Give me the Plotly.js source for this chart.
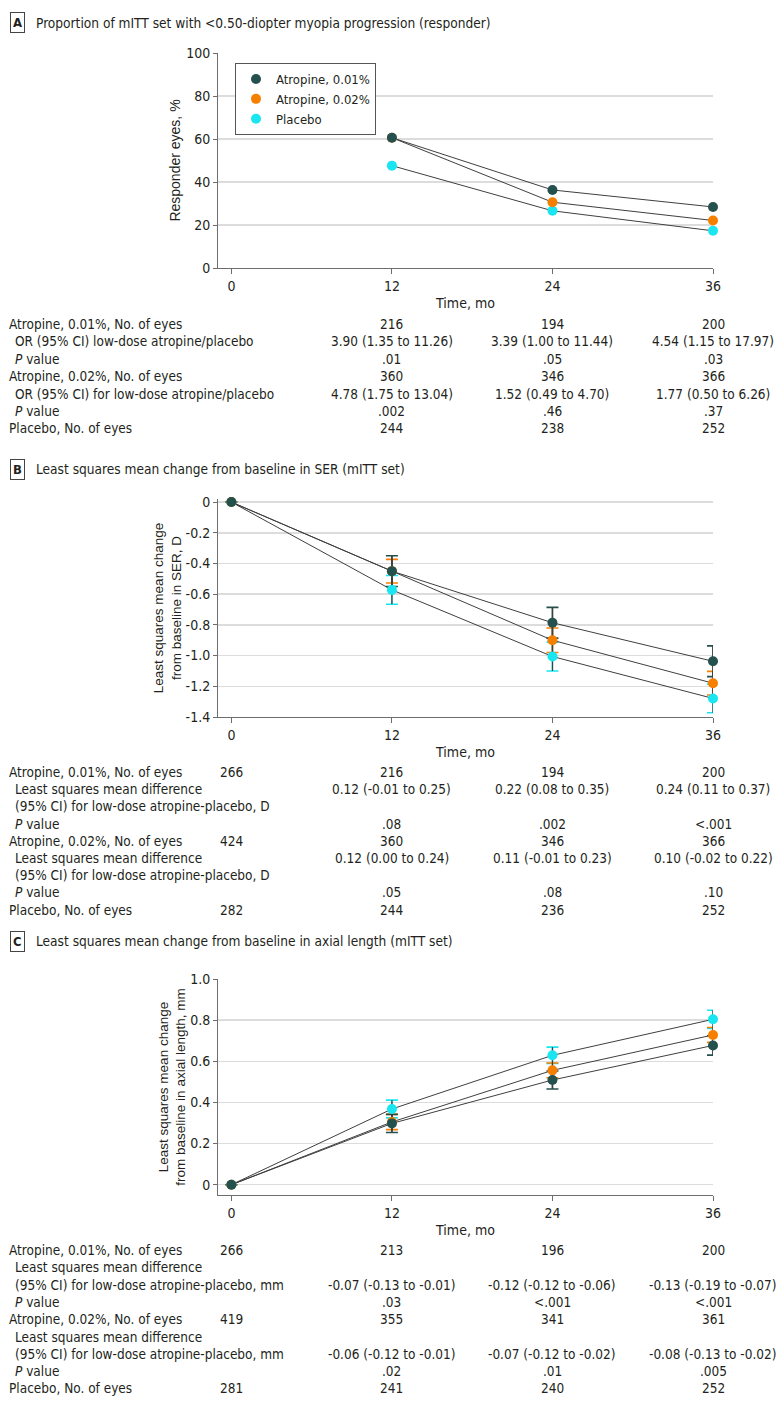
<!DOCTYPE html>
<html><head><meta charset="utf-8">
<script src="https://cdn.plot.ly/plotly-3.0.1.min.js"></script>
<style>html,body{margin:0;padding:0;background:#fff}</style>
</head><body><div id="chart" style="width:783px;height:1406px"></div>
<script>
// ---------------- DATA ----------------
const monthTicks = [0, 12, 24, 36];
const monthTickText = ["0", "12", "24", "36"];
const seriesNames = ["Atropine, 0.01%", "Atropine, 0.02%", "Placebo"];

// Panel A: responder eyes, %
const monthsA = [12, 24, 36];
const respA_001 = [60.6, 36.3, 28.4];
const respA_002 = [60.6, 30.6, 22.1];
const respA_pl  = [47.6, 26.6, 17.3];
const yTicksA = [0, 20, 40, 60, 80, 100];
const yTickTextA = ["0", "20", "40", "60", "80", "100"];

// Panel B: LS mean change in SER, D
const monthsB = [0, 12, 24, 36];
const serB_001 = [0, -0.45, -0.786, -1.037];
const serErrB_001 = [null, 0.10, 0.10, 0.10];
const serB_002 = [0, -0.45, -0.90, -1.18];
const serErrB_002 = [null, 0.077, 0.08, 0.077];
const serB_pl  = [0, -0.572, -1.006, -1.279];
const serErrB_pl = [null, 0.094, 0.094, 0.093];
const yTicksB = [-1.4, -1.2, -1.0, -0.8, -0.6, -0.4, -0.2, 0];
const yTickTextB = ["-1.4", "-1.2", "-1.0", "-0.8", "-0.6", "-0.4", "-0.2", "0"];

// Panel C: LS mean change in axial length, mm
const monthsC = [0, 12, 24, 36];
const axC_001 = [0, 0.298, 0.509, 0.677];
const axErrC_001 = [null, 0.044, 0.044, 0.047];
const axC_002 = [0, 0.305, 0.556, 0.728];
const axErrC_002 = [null, 0.037, 0.036, 0.036];
const axC_pl  = [0, 0.368, 0.629, 0.804];
const axErrC_pl = [null, 0.043, 0.040, 0.044];
const yTicksC = [0, 0.2, 0.4, 0.6, 0.8, 1.0];
const yTickTextC = ["0", "0.2", "0.4", "0.6", "0.8", "1.0"];

// Tables
const tabA_labels = ["Atropine, 0.01%, No. of eyes", "OR (95% CI) low-dose atropine/placebo", "<i>P</i> value",
  "Atropine, 0.02%, No. of eyes", "OR (95% CI) for low-dose atropine/placebo", "<i>P</i> value", "Placebo, No. of eyes"];
const tabA_n001 = ["216", "194", "200"];
const tabA_or001 = ["3.90 (1.35 to 11.26)", "3.39 (1.00 to 11.44)", "4.54 (1.15 to 17.97)"];
const tabA_p001 = [".01", ".05", ".03"];
const tabA_n002 = ["360", "346", "366"];
const tabA_or002 = ["4.78 (1.75 to 13.04)", "1.52 (0.49 to 4.70)", "1.77 (0.50 to 6.26)"];
const tabA_p002 = [".002", ".46", ".37"];
const tabA_npl = ["244", "238", "252"];

const tabB_labels = ["Atropine, 0.01%, No. of eyes", "Least squares mean difference", "(95% CI) for low-dose atropine-placebo, D", "<i>P</i> value",
  "Atropine, 0.02%, No. of eyes", "Least squares mean difference", "(95% CI) for low-dose atropine-placebo, D", "<i>P</i> value", "Placebo, No. of eyes"];
const tabB_n001 = ["266", "216", "194", "200"];
const tabB_d001 = ["0.12 (-0.01 to 0.25)", "0.22 (0.08 to 0.35)", "0.24 (0.11 to 0.37)"];
const tabB_p001 = [".08", ".002", "<.001"];
const tabB_n002 = ["424", "360", "346", "366"];
const tabB_d002 = ["0.12 (0.00 to 0.24)", "0.11 (-0.01 to 0.23)", "0.10 (-0.02 to 0.22)"];
const tabB_p002 = [".05", ".08", ".10"];
const tabB_npl = ["282", "244", "236", "252"];

const tabC_labels = ["Atropine, 0.01%, No. of eyes", "Least squares mean difference", "(95% CI) for low-dose atropine-placebo, mm", "<i>P</i> value",
  "Atropine, 0.02%, No. of eyes", "Least squares mean difference", "(95% CI) for low-dose atropine-placebo, mm", "<i>P</i> value", "Placebo, No. of eyes"];
const tabC_n001 = ["266", "213", "196", "200"];
const tabC_d001 = ["-0.07 (-0.13 to -0.01)", "-0.12 (-0.12 to -0.06)", "-0.13 (-0.19 to -0.07)"];
const tabC_p001 = [".03", "<.001", "<.001"];
const tabC_n002 = ["419", "355", "341", "361"];
const tabC_d002 = ["-0.06 (-0.12 to -0.01)", "-0.07 (-0.12 to -0.02)", "-0.08 (-0.13 to -0.02)"];
const tabC_p002 = [".02", ".01", ".005"];
const tabC_npl = ["281", "241", "240", "252"];

// ---------------- STYLE ----------------
const W = 783, H = 1406;
const X = p => p / W, Y = p => 1 - p / H;
const FN = '"Liberation Sans Narrow", "DejaVu Sans Condensed", "Roboto Condensed", Roboto, sans-serif';
const FW = '"Liberation Sans", Arial, sans-serif';
const TXT = '#231f20';
const COL = ['#24504d', '#f77f00', '#19e6f0'];
const LINE = '#3f3f3f';

const traces = [];
function panel(xa, ya, xs, ys3, errs3, showLeg) {
  const order = [2, 1, 0];
  if (errs3) {
    order.forEach(i => {
      traces.push({x: xs, y: ys3[i], xaxis: xa, yaxis: ya, type: 'scatter', mode: 'markers',
        marker: {size: 1, color: 'rgba(0,0,0,0)'}, showlegend: false, hoverinfo: 'skip', cliponaxis: false,
        error_y: {type: 'data', array: errs3[i], visible: true, color: COL[i], thickness: 1.6, width: 6}});
    });
    order.forEach(i => {
      traces.push({x: xs, y: ys3[i], xaxis: xa, yaxis: ya, type: 'scatter', mode: 'markers',
        marker: {size: 1, color: 'rgba(0,0,0,0)'}, showlegend: false, hoverinfo: 'skip', cliponaxis: false,
        error_y: {type: 'data', array: errs3[i], visible: true, color: LINE, thickness: 1.2, width: 0}});
    });
  }
  order.forEach(i => {
    traces.push({x: xs, y: ys3[i], xaxis: xa, yaxis: ya, type: 'scatter', mode: 'lines',
      line: {color: LINE, width: 1}, showlegend: false, hoverinfo: 'skip', cliponaxis: false});
  });
  order.forEach(i => {
    traces.push({x: xs, y: ys3[i], xaxis: xa, yaxis: ya, type: 'scatter', mode: 'markers', name: seriesNames[i],
      marker: {size: 10, color: COL[i]}, showlegend: showLeg, legendrank: i + 1, cliponaxis: false});
  });
}
panel('x', 'y', monthsA, [respA_001, respA_002, respA_pl], null, true);
panel('x2', 'y2', monthsB, [serB_001, serB_002, serB_pl], [serErrB_001, serErrB_002, serErrB_pl], false);
panel('x3', 'y3', monthsC, [axC_001, axC_002, axC_pl], [axErrC_001, axErrC_002, axErrC_pl], false);

function xax(anchor) {
  return {domain: [X(218), X(713)], range: [-1, 36], anchor: anchor, tickvals: monthTicks, ticktext: monthTickText,
    ticks: 'outside', ticklen: 5, tickcolor: '#6d6d6d', showline: true, linecolor: '#6d6d6d', linewidth: 1,
    showgrid: false, zeroline: false, tickfont: {family: FN, size: 14, color: TXT},
    title: {text: 'Time, mo', font: {family: FN, size: 14, color: TXT}, standoff: 5}, automargin: false};
}
function yax(anchor, dom, range, tv, tt, title, tsize) {
  return {domain: dom, range: range, anchor: anchor, tickvals: tv, ticktext: tt,
    ticks: 'outside', ticklen: 4, tickcolor: '#6d6d6d', showline: true, linecolor: '#6d6d6d', linewidth: 1,
    showgrid: true, gridcolor: '#dcdcdc', gridwidth: 1.5, zeroline: false,
    tickfont: {family: FN, size: 14, color: TXT},
    title: {text: title, font: {family: FW, size: tsize, color: TXT}}, automargin: false};
}

const annotations = [];
function label(letter, text, y) {
  annotations.push({xref: 'paper', yref: 'paper', x: X(17), y: Y(y), xanchor: 'center', yanchor: 'middle',
    text: '<b>' + letter + '</b>', showarrow: false, font: {family: FN, size: 13, color: TXT},
    bordercolor: '#444', borderwidth: 1, borderpad: 2, bgcolor: '#fff'});
  annotations.push({xref: 'paper', yref: 'paper', x: X(34), y: Y(y), xanchor: 'left', yanchor: 'middle',
    text: text, showarrow: false, font: {family: FN, size: 13.6, color: TXT}});
}
function rowLabel(text, indent, y) {
  annotations.push({xref: 'paper', yref: 'paper', x: X(indent ? 13 : 7), y: Y(y), xanchor: 'left', yanchor: 'middle',
    text: text, showarrow: false, font: {family: FN, size: 13.5, color: TXT}});
}
function rowVals(xref, months, vals, y) {
  vals.forEach((v, k) => {
    annotations.push({xref: xref, yref: 'paper', x: months[k], y: Y(y), xanchor: 'center', yanchor: 'middle',
      text: v, showarrow: false, font: {family: FN, size: 13.5, color: TXT}});
  });
}

label('A', 'Proportion of mITT set with &lt;0.50-diopter myopia progression (responder)', 23);
label('B', 'Least squares mean change from baseline in SER (mITT set)', 469);
label('C', 'Least squares mean change from baseline in axial length (mITT set)', 941);

// Table A
const rA = [324, 341.4, 358.8, 376.2, 393.6, 411, 428.4];
const indA = [0, 1, 1, 0, 1, 1, 0];
tabA_labels.forEach((t, i) => rowLabel(t, indA[i], rA[i]));
const mA = [12, 24, 36];
rowVals('x', mA, tabA_n001, rA[0]);
rowVals('x', mA, tabA_or001, rA[1]);
rowVals('x', mA, tabA_p001, rA[2]);
rowVals('x', mA, tabA_n002, rA[3]);
rowVals('x', mA, tabA_or002, rA[4]);
rowVals('x', mA, tabA_p002, rA[5]);
rowVals('x', mA, tabA_npl, rA[6]);

// Table B
const rB = [772, 789.2, 806.4, 823.6, 840.8, 858, 875.2, 892.4, 909.6];
const indB = [0, 1, 1, 1, 0, 1, 1, 1, 0];
tabB_labels.forEach((t, i) => rowLabel(t, indB[i], rB[i]));
const mB = [0, 12, 24, 36];
rowVals('x2', mB, tabB_n001, rB[0]);
rowVals('x2', mA, tabB_d001, rB[1]);
rowVals('x2', mA, tabB_p001, rB[3]);
rowVals('x2', mB, tabB_n002, rB[4]);
rowVals('x2', mA, tabB_d002, rB[5]);
rowVals('x2', mA, tabB_p002, rB[7]);
rowVals('x2', mB, tabB_npl, rB[8]);

// Table C
const rC = [1250, 1267.3, 1284.6, 1301.9, 1319.2, 1336.5, 1353.8, 1371.1, 1388.4];
tabC_labels.forEach((t, i) => rowLabel(t, indB[i], rC[i]));
rowVals('x3', mB, tabC_n001, rC[0]);
rowVals('x3', mA, tabC_d001, rC[2]);
rowVals('x3', mA, tabC_p001, rC[3]);
rowVals('x3', mB, tabC_n002, rC[4]);
rowVals('x3', mA, tabC_d002, rC[6]);
rowVals('x3', mA, tabC_p002, rC[7]);
rowVals('x3', mB, tabC_npl, rC[8]);

const layout = {
  width: W, height: H, margin: {l: 0, r: 0, t: 0, b: 0}, paper_bgcolor: '#fff', plot_bgcolor: '#fff',
  font: {family: FN, size: 14, color: TXT},
  showlegend: true,
  legend: {x: X(235), y: Y(63), xanchor: 'left', yanchor: 'top', bordercolor: '#555', borderwidth: 1,
    bgcolor: '#fff', font: {family: FN, size: 13, color: TXT}, traceorder: 'normal', itemwidth: 30},
  xaxis: xax('y'),
  yaxis: yax('x', [Y(268), Y(53)], [0, 100], yTicksA, yTickTextA, 'Responder eyes, %', 14),
  xaxis2: xax('y2'),
  yaxis2: yax('x2', [Y(717), Y(499)], [-1.4, 0.02], yTicksB, yTickTextB, 'Least squares mean change<br>from baseline in SER, D', 13.5),
  xaxis3: xax('y3'),
  yaxis3: yax('x3', [Y(1195), Y(979)], [-0.05, 1.0], yTicksC, yTickTextC, 'Least squares mean change<br>from baseline in axial length, mm', 13.5),
  annotations: annotations
};
Plotly.newPlot('chart', traces, layout, {staticPlot: true, displayModeBar: false});
</script></body></html>
